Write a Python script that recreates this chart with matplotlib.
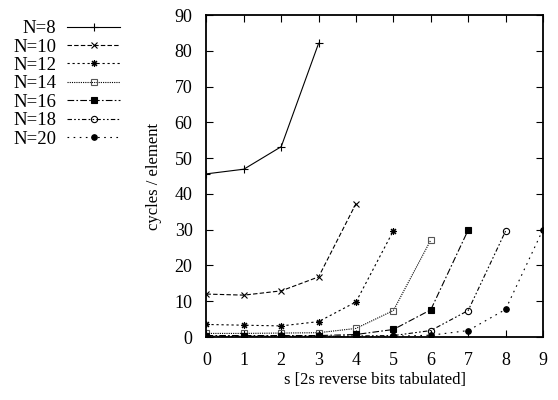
import matplotlib.pyplot as plt

plt.rcParams['font.family'] = ['Liberation Serif', 'DejaVu Serif']

S = [0, 1, 2, 3, 4, 5, 6, 7, 8, 9]
LABELS = ["N=8", "N=10", "N=12", "N=14", "N=16", "N=18", "N=20"]

# cycles / element
n8 = [45.6, 46.9, 53.2, 82.1]
n10 = [12.0, 11.7, 12.9, 16.8, 37.3]
n12 = [3.5, 3.3, 3.1, 4.3, 9.8, 29.7]
n14 = [1.0, 1.0, 1.1, 1.2, 2.4, 7.4, 27.1]
n16 = [0.4, 0.4, 0.4, 0.4, 0.7, 2.1, 7.6, 29.9]
n18 = [0.2, 0.2, 0.2, 0.2, 0.3, 0.4, 1.8, 7.4, 29.6]
n20 = [0.1, 0.1, 0.1, 0.1, 0.1, 0.2, 0.5, 1.8, 7.7, 30.0]

series = [n8, n10, n12, n14, n16, n18, n20]
styles = [
    dict(ls='-', marker='+', ms=6, mfc='none'),
    dict(ls=(0, (4, 2)), marker='x', ms=4.5, mfc='none'),
    dict(ls=(0, (2, 2.5)), marker=(8, 2, 0), ms=5, mfc='none'),
    dict(ls=(0, (1, 1)), marker='s', ms=4.5, mfc='none', color='#555555'),
    dict(ls=(0, (6, 2, 1.5, 2)), marker='s', ms=5, mfc='k'),
    dict(ls=(0, (4, 2, 1.5, 2, 1.5, 2)), marker='o', ms=4.5, mfc='none'),
    dict(ls=(0, (1.5, 4)), marker='o', ms=4, mfc='k'),
]

fig = plt.figure(figsize=(5.58, 4.0), dpi=100)
ax = fig.add_axes([0.37, 0.1575, 0.603, 0.805])

for vals, lab, st in zip(series, LABELS, styles):
    col = st.pop('color', 'k')
    ax.plot(S[:len(vals)], vals, color='k', lw=0.8, label=lab,
            mec=col, mew=0.8, **st)

ax.set_xlim(0, 9)
ax.set_ylim(0, 90)
ax.set_xticks(S)
ax.set_yticks(range(0, 91, 10))
ax.tick_params(direction='in', top=True, right=True, length=5, width=0.8,
               labelsize=13)
ax.tick_params(axis='x', pad=11)
ax.tick_params(axis='y', pad=10)
for sp in ax.spines.values():
    sp.set_linewidth(1.3)

ax.set_xlabel("s [2s reverse bits tabulated]", fontsize=12, labelpad=2)
ax.set_ylabel("cycles / element", fontsize=12, labelpad=9)

ax.legend(loc='upper right', bbox_to_anchor=(0.215, 0.95), bbox_transform=fig.transFigure,
          frameon=False, markerfirst=False, fontsize=13.5, handlelength=2.8,
          handletextpad=0.6, labelspacing=0.07, borderaxespad=0.0, borderpad=0.0)

fig.savefig("out.png", dpi=100)
